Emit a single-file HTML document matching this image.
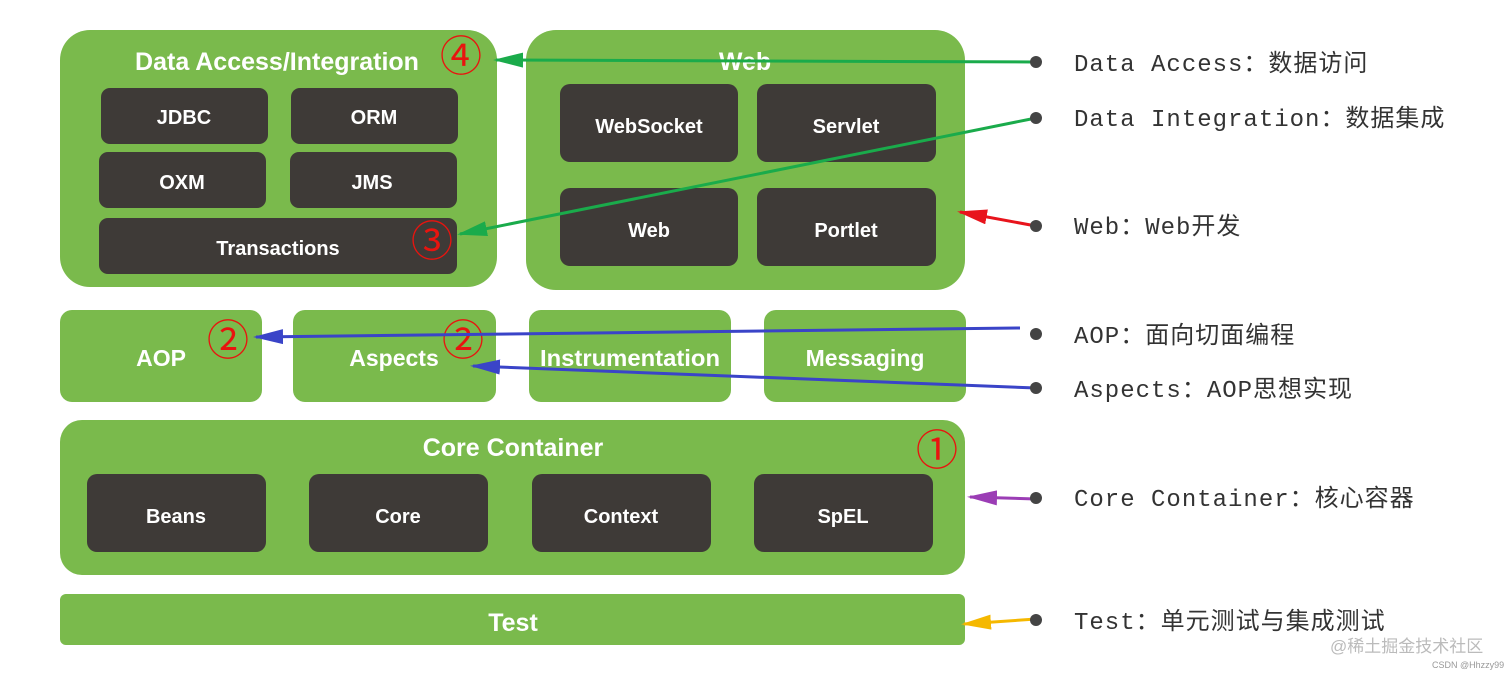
<!DOCTYPE html>
<html><head><meta charset="utf-8"><style>
html,body{margin:0;padding:0;background:#fff;width:1512px;height:677px;overflow:hidden}
svg{display:block}
.g{fill:#7aba4c}
.d{fill:#3e3a37}
.t{font-family:"Liberation Sans",sans-serif;font-weight:bold;fill:#fff;text-anchor:middle}
.n{font-family:"Liberation Sans","Noto Sans CJK SC",sans-serif;fill:#e8140f;text-anchor:middle;font-size:42px}
.l{font-family:"Liberation Mono","Noto Sans CJK SC",sans-serif;font-size:24px;fill:#333;letter-spacing:1px}
</style></head><body>
<svg width="1512" height="677" viewBox="0 0 1512 677" xmlns="http://www.w3.org/2000/svg">
<defs>
<marker id="ag" markerWidth="10" markerHeight="5" refX="9" refY="2.5" orient="auto" markerUnits="strokeWidth"><path d="M0,0 L10,2.5 L0,5 Z" fill="#1aab4b"/></marker>
<marker id="ar" markerWidth="10" markerHeight="5" refX="9" refY="2.5" orient="auto" markerUnits="strokeWidth"><path d="M0,0 L10,2.5 L0,5 Z" fill="#e8141c"/></marker>
<marker id="ab" markerWidth="10" markerHeight="5" refX="9" refY="2.5" orient="auto" markerUnits="strokeWidth"><path d="M0,0 L10,2.5 L0,5 Z" fill="#3a44c8"/></marker>
<marker id="ap" markerWidth="10" markerHeight="5" refX="9" refY="2.5" orient="auto" markerUnits="strokeWidth"><path d="M0,0 L10,2.5 L0,5 Z" fill="#9b3db5"/></marker>
<marker id="ay" markerWidth="10" markerHeight="5" refX="9" refY="2.5" orient="auto" markerUnits="strokeWidth"><path d="M0,0 L10,2.5 L0,5 Z" fill="#f5b800"/></marker>
</defs>
<rect class="g" x="60" y="30" width="437" height="257" rx="30"/>
<text class="t" x="277" y="70" font-size="25">Data Access/Integration</text>
<rect class="d" x="101" y="88" width="167" height="56" rx="9"/><text class="t" x="184" y="124" font-size="20">JDBC</text>
<rect class="d" x="291" y="88" width="167" height="56" rx="9"/><text class="t" x="374" y="124" font-size="20">ORM</text>
<rect class="d" x="99" y="152" width="167" height="56" rx="9"/><text class="t" x="182" y="189" font-size="20">OXM</text>
<rect class="d" x="290" y="152" width="167" height="56" rx="9"/><text class="t" x="372" y="189" font-size="20">JMS</text>
<rect class="d" x="99" y="218" width="358" height="56" rx="9"/><text class="t" x="278" y="255" font-size="20">Transactions</text>
<rect class="g" x="526" y="30" width="439" height="260" rx="30"/>
<text class="t" x="745" y="70" font-size="25">Web</text>
<rect class="d" x="560" y="84" width="178" height="78" rx="10"/><text class="t" x="649" y="133" font-size="20">WebSocket</text>
<rect class="d" x="757" y="84" width="179" height="78" rx="10"/><text class="t" x="846" y="133" font-size="20">Servlet</text>
<rect class="d" x="560" y="188" width="178" height="78" rx="10"/><text class="t" x="649" y="237" font-size="20">Web</text>
<rect class="d" x="757" y="188" width="179" height="78" rx="10"/><text class="t" x="846" y="237" font-size="20">Portlet</text>
<rect class="g" x="60" y="310" width="202" height="92" rx="12"/><text class="t" x="161" y="366" font-size="23">AOP</text>
<rect class="g" x="293" y="310" width="203" height="92" rx="12"/><text class="t" x="394" y="366" font-size="23">Aspects</text>
<rect class="g" x="529" y="310" width="202" height="92" rx="12"/><text class="t" x="630" y="366" font-size="23" textLength="180" lengthAdjust="spacingAndGlyphs">Instrumentation</text>
<rect class="g" x="764" y="310" width="202" height="92" rx="12"/><text class="t" x="865" y="366" font-size="23">Messaging</text>
<rect class="g" x="60" y="420" width="905" height="155" rx="22"/>
<text class="t" x="513" y="456" font-size="25">Core Container</text>
<rect class="d" x="87" y="474" width="179" height="78" rx="10"/><text class="t" x="176" y="523" font-size="20">Beans</text>
<rect class="d" x="309" y="474" width="179" height="78" rx="10"/><text class="t" x="398" y="523" font-size="20">Core</text>
<rect class="d" x="532" y="474" width="179" height="78" rx="10"/><text class="t" x="621" y="523" font-size="20">Context</text>
<rect class="d" x="754" y="474" width="179" height="78" rx="10"/><text class="t" x="843" y="523" font-size="20">SpEL</text>
<rect class="g" x="60" y="594" width="905" height="51" rx="6"/><text class="t" x="513" y="631" font-size="25">Test</text>
<text class="n" x="461" y="71">④</text>
<text class="n" x="432" y="256">③</text>
<text class="n" x="228" y="355">②</text>
<text class="n" x="463" y="355">②</text>
<text class="n" x="937" y="465">①</text>
<g fill="none">
<line x1="1036" y1="62" x2="496" y2="60" stroke="#1aab4b" stroke-width="3" marker-end="url(#ag)"/>
<line x1="1036" y1="118" x2="460" y2="234" stroke="#1aab4b" stroke-width="3" marker-end="url(#ag)"/>
<line x1="1036" y1="226" x2="960" y2="212" stroke="#e8141c" stroke-width="3" marker-end="url(#ar)"/>
<line x1="1020" y1="328" x2="256" y2="337" stroke="#3a44c8" stroke-width="3" marker-end="url(#ab)"/>
<line x1="1036" y1="388" x2="473" y2="366" stroke="#3a44c8" stroke-width="3" marker-end="url(#ab)"/>
<line x1="1036" y1="499" x2="970" y2="497" stroke="#9b3db5" stroke-width="3" marker-end="url(#ap)"/>
<line x1="1036" y1="619" x2="964" y2="624" stroke="#f5b800" stroke-width="3" marker-end="url(#ay)"/>
</g>
<g fill="#444">
<circle cx="1036" cy="62" r="6"/><circle cx="1036" cy="118" r="6"/><circle cx="1036" cy="226" r="6"/>
<circle cx="1036" cy="334" r="6"/><circle cx="1036" cy="388" r="6"/><circle cx="1036" cy="498" r="6"/><circle cx="1036" cy="620" r="6"/>
</g>
<text class="l" x="1074" y="71">Data Access：数据访问</text>
<text class="l" x="1074" y="126">Data Integration：数据集成</text>
<text class="l" x="1074" y="234">Web：Web开发</text>
<text class="l" x="1074" y="343">AOP：面向切面编程</text>
<text class="l" x="1074" y="397">Aspects：AOP思想实现</text>
<text class="l" x="1074" y="506">Core Container：核心容器</text>
<text class="l" x="1074" y="629">Test：单元测试与集成测试</text>
<text x="1330" y="652" font-family="Liberation Sans,Noto Sans CJK SC,sans-serif" font-size="17" fill="#bbb">@稀土掘金技术社区</text>
<text x="1432" y="668" font-family="Liberation Sans,sans-serif" font-size="9" fill="#999">CSDN @Hhzzy99</text>
</svg>
</body></html>
